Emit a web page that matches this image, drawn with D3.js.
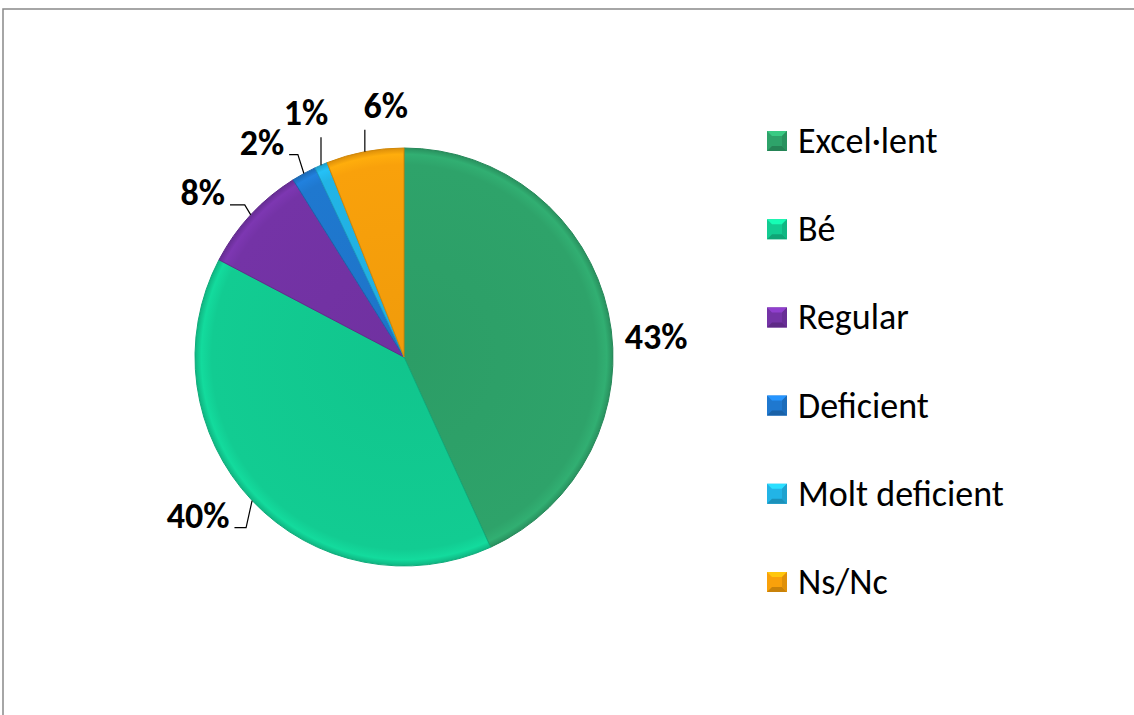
<!DOCTYPE html>
<html>
<head>
<meta charset="utf-8">
<script src="https://cdn.jsdelivr.net/npm/d3@7"></script>
<style>
  html, body { margin: 0; padding: 0; background: #fff; }
  svg { display: block; font-family: Carlito, "Open Sans", sans-serif; }
</style>
</head>
<body>
<div id="chart"></div>
<script>
// dades del gràfic
const categories = ["Excel·lent", "Bé", "Regular", "Deficient", "Molt deficient", "Ns/Nc"];
const values = [43.2, 39.5, 8.4, 1.9, 1.0, 6.0];
const labels = ["43%", "40%", "8%", "2%", "1%", "6%"];
const colors = ["#2ea36a", "#12cc92", "#7433a6", "#1f78cf", "#22b4e6", "#f9a10b"];

const W = 1134, H = 715;
const cx = 404, cy = 357, R = 209;

const svg = d3.select("#chart").append("svg")
    .attr("width", W).attr("height", H);

// marc
svg.append("rect")
    .attr("x", 3).attr("y", 9)
    .attr("width", W + 10).attr("height", H + 10)
    .attr("fill", "none").attr("stroke", "#898989").attr("stroke-width", 1.5);

const defs = svg.append("defs");

// degradat per a cada sector (efecte bisell suau)
colors.forEach((c, i) => {
    const g = defs.append("radialGradient")
        .attr("id", "grad" + i)
        .attr("gradientUnits", "userSpaceOnUse")
        .attr("cx", 0).attr("cy", 0).attr("r", R);
    g.append("stop").attr("offset", "0%").attr("stop-color", d3.color(c).darker(0.1));
    g.append("stop").attr("offset", "92%").attr("stop-color", c);
    g.append("stop").attr("offset", "97%").attr("stop-color", d3.color(c).brighter(0.2));
    g.append("stop").attr("offset", "100%").attr("stop-color", d3.color(c).darker(0.35));
});

const pie = d3.pie().sort(null).value(d => d)(values);
const arc = d3.arc().innerRadius(0).outerRadius(R);

const g = svg.append("g").attr("transform", `translate(${cx},${cy})`);

g.selectAll("path.slice")
    .data(pie)
    .enter()
    .append("path")
    .attr("class", "slice")
    .attr("d", arc)
    .attr("fill", (d, i) => `url(#grad${i})`)
    .attr("stroke", (d, i) => d3.color(colors[i]).darker(0.5))
    .attr("stroke-width", 1);

// etiquetes de dades: desplaçament respecte al punt mig de l'arc
const labelNudge = [[48, 36], [-54, 27], [-48, -10], [-42, -19], [-15, -40], [21, -34]];
const leaderType = [null, "side", "side", "side", "top", "top"];

function midPoint(d) {
    const a = (d.startAngle + d.endAngle) / 2;
    return [Math.sin(a) * R, -Math.cos(a) * R];
}

const lbl = g.selectAll("g.lbl")
    .data(pie)
    .enter()
    .append("g")
    .attr("class", "lbl");

lbl.each(function(d, i) {
    const sel = d3.select(this);
    const [mx, my] = midPoint(d);
    const tx = mx + labelNudge[i][0];
    const ty = my + labelNudge[i][1];
    const t = sel.append("text")
        .attr("x", tx).attr("y", ty)
        .attr("text-anchor", "middle")
        .attr("font-size", 36)
        .attr("font-weight", "bold")
        .attr("fill", "#000")
        .text(labels[i]);
    const w = t.node().getComputedTextLength();
    let pts = null;
    if (leaderType[i] === "side") {
        const right = tx + w / 2 + 5;
        const kx = mx - 6;
        pts = [[right, ty], [kx, ty], [mx, my]];
    } else if (leaderType[i] === "top") {
        pts = [[mx, ty + 12], [mx, my]];
    }
    if (pts) {
        sel.append("path")
            .attr("d", d3.line()(pts))
            .attr("fill", "none")
            .attr("stroke", "#000")
            .attr("stroke-width", 1.2);
    }
});

// llegenda
const legend = svg.append("g").attr("transform", "translate(767,141)");
const row = legend.selectAll("g.item")
    .data(categories)
    .enter()
    .append("g")
    .attr("class", "item")
    .attr("transform", (d, i) => `translate(0,${i * 88.2})`);

row.each(function(d, i) {
    const s = d3.select(this);
    const c = d3.color(colors[i]);
    const sz = 20, b = 5;
    s.append("rect").attr("x", 0).attr("y", -sz / 2).attr("width", sz).attr("height", sz)
        .attr("fill", c);
    // bisell del marcador
    s.append("path").attr("d", `M0,${-sz/2}L${sz},${-sz/2}L${sz-b},${-sz/2+b}L${b},${-sz/2+b}Z`)
        .attr("fill", c.brighter(0.6));
    s.append("path").attr("d", `M0,${sz/2}L${sz},${sz/2}L${sz-b},${sz/2-b}L${b},${sz/2-b}Z`)
        .attr("fill", c.darker(0.6));
    s.append("path").attr("d", `M${sz},${-sz/2}L${sz},${sz/2}L${sz-b},${sz/2-b}L${sz-b},${-sz/2+b}Z`)
        .attr("fill", c.darker(0.3));
    s.append("text")
        .attr("x", 31).attr("y", 12)
        .attr("font-size", 36)
        .attr("fill", "#000")
        .text(d);
});
</script>
</body>
</html>
